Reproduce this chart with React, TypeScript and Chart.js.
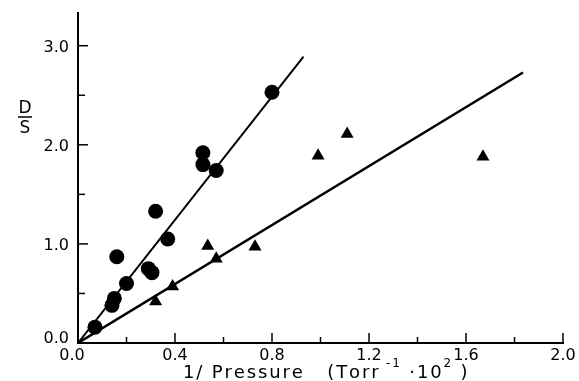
import React, { useEffect, useRef } from "react";
import { Chart, registerables } from "chart.js";

Chart.register(...registerables);

// Circles (first series) : [1/Pressure, D/S]
const circleX = [0.07, 0.14, 0.15, 0.16, 0.2, 0.29, 0.305, 0.32, 0.37, 0.515, 0.515, 0.57, 0.8];
const circleY = [0.16, 0.38, 0.45, 0.87, 0.6, 0.75, 0.71, 1.33, 1.05, 1.92, 1.8, 1.74, 2.53];
// Triangles (second series)
const triX = [0.32, 0.39, 0.535, 0.57, 0.73, 0.99, 1.11, 1.67];
const triY = [0.42, 0.57, 0.98, 0.85, 0.97, 1.89, 2.11, 1.88];
// Fitted lines (start and end points)
const lineAX = [0, 0.93];
const lineAY = [0, 2.89];
const lineBX = [0, 1.835];
const lineBY = [0, 2.73];

const xMajorTicks = [0, 0.4, 0.8, 1.2, 1.6, 2.0];
const xTickLabels = ["0.0", "0.4", "0.8", "1.2", "1.6", "2.0"];
const xMinorTicks = [0.2, 0.6, 1.0, 1.4, 1.8];
const yMajorTicks = [0, 1, 2, 3];
const yTickLabels = ["0.0", "1.0", "2.0", "3.0"];
const yMinorTicks = [0.5, 1.5, 2.5];

const X_MIN = 0;
const X_MAX = 2.0;
const Y_MIN = 0;
const Y_MAX = 3.33;

const FONT = "'DejaVu Sans', 'Liberation Sans', Arial, sans-serif";

const axesPlugin = {
  id: "paperAxes",
  afterDraw(chart: any) {
    const ctx = chart.ctx;
    const xs = chart.scales.x;
    const ys = chart.scales.y;
    const x0 = xs.getPixelForValue(X_MIN);
    const x1 = xs.getPixelForValue(X_MAX);
    const y0 = ys.getPixelForValue(Y_MIN);
    const y1 = ys.getPixelForValue(Y_MAX);
    ctx.save();
    ctx.strokeStyle = "#000";
    ctx.fillStyle = "#000";
    ctx.lineWidth = 2;
    ctx.lineCap = "square";
    ctx.beginPath();
    ctx.moveTo(x0, y1);
    ctx.lineTo(x0, y0);
    ctx.lineTo(x1, y0);
    ctx.stroke();

    ctx.lineWidth = 1.5;
    ctx.lineCap = "butt";
    xMajorTicks.forEach((v) => {
      const px = xs.getPixelForValue(v);
      ctx.beginPath();
      ctx.moveTo(px, y0);
      ctx.lineTo(px, y0 - 10);
      ctx.stroke();
    });
    xMinorTicks.forEach((v) => {
      const px = xs.getPixelForValue(v);
      ctx.beginPath();
      ctx.moveTo(px, y0);
      ctx.lineTo(px, y0 - 6);
      ctx.stroke();
    });
    yMajorTicks.forEach((v) => {
      const py = ys.getPixelForValue(v);
      ctx.beginPath();
      ctx.moveTo(x0, py);
      ctx.lineTo(x0 + 10, py);
      ctx.stroke();
    });
    yMinorTicks.forEach((v) => {
      const py = ys.getPixelForValue(v);
      ctx.beginPath();
      ctx.moveTo(x0, py);
      ctx.lineTo(x0 + 7, py);
      ctx.stroke();
    });

    // tick labels
    ctx.font = `16px ${FONT}`;
    ctx.textAlign = "center";
    ctx.textBaseline = "alphabetic";
    xMajorTicks.forEach((v, i) => {
      const px = xs.getPixelForValue(v);
      ctx.fillText(xTickLabels[i], v === 0 ? px - 6 : px, y0 + 17);
    });
    ctx.textAlign = "right";
    yMajorTicks.forEach((v, i) => {
      const py = ys.getPixelForValue(v);
      ctx.fillText(yTickLabels[i], x0 - 9, (v === 0 ? py - 6 : py) + 6);
    });

    // y-axis title: D over S
    ctx.font = `17px ${FONT}`;
    ctx.textAlign = "center";
    const cx = 25;
    ctx.fillText("D", cx, 113);
    ctx.fillText("S", cx, 133);
    ctx.lineWidth = 1.5;
    ctx.beginPath();
    ctx.moveTo(cx - 7, 117);
    ctx.lineTo(cx + 7, 117);
    ctx.stroke();

    // x-axis title with superscripts
    const parts: [string, boolean][] = [
      ["1/ Pressure   (Torr", false],
      [" -1", true],
      [" ·10", false],
      ["2", true],
      [" )", false],
    ];
    const big = `18px ${FONT}`;
    const small = `12px ${FONT}`;
    let total = 0;
    let nChars = 0;
    parts.forEach(([t, sup]) => {
      ctx.font = sup ? small : big;
      total += ctx.measureText(t).width;
      nChars += t.length;
    });
    const left = 183;
    const targetW = 282;
    const spacing = Math.max(-1, Math.min(3, (targetW - total) / nChars));
    let cursor = left;
    ctx.textAlign = "left";
    parts.forEach(([t, sup]) => {
      ctx.font = sup ? small : big;
      for (const ch of t) {
        ctx.fillText(ch, cursor, sup ? 367 : 378);
        cursor += ctx.measureText(ch).width + spacing;
      }
    });
    ctx.restore();
  },
};

export default function App() {
  const ref = useRef<HTMLCanvasElement | null>(null);
  useEffect(() => {
    if (!ref.current) return;
    const circles = circleX.map((x, i) => ({ x, y: circleY[i] }));
    const tris = triX.map((x, i) => ({ x, y: triY[i] }));
    const lineA = lineAX.map((x, i) => ({ x, y: lineAY[i] }));
    const lineB = lineBX.map((x, i) => ({ x, y: lineBY[i] }));
    const chart = new Chart(ref.current, {
      type: "scatter",
      data: {
        datasets: [
          { label: "line A", data: lineA, showLine: true, borderColor: "#000", borderWidth: 2, pointRadius: 0 },
          { label: "line B", data: lineB, showLine: true, borderColor: "#000", borderWidth: 2.5, pointRadius: 0 },
          {
            label: "circles",
            data: circles,
            pointStyle: "circle",
            pointRadius: 7.5,
            backgroundColor: "#000",
            borderColor: "#000",
            borderWidth: 0,
          },
          {
            label: "triangles",
            data: tris,
            pointStyle: "triangle",
            pointRadius: 7.5,
            backgroundColor: "#000",
            borderColor: "#000",
            borderWidth: 0,
          },
        ],
      },
      options: {
        animation: false,
        responsive: false,
        maintainAspectRatio: false,
        layout: { padding: { left: 78, right: 16, top: 13, bottom: 38 } },
        plugins: { legend: { display: false }, tooltip: { enabled: false } },
        scales: {
          x: { type: "linear", min: X_MIN, max: X_MAX, display: false },
          y: { type: "linear", min: Y_MIN, max: Y_MAX, display: false },
        },
      },
      plugins: [axesPlugin],
    });
    return () => chart.destroy();
  }, []);
  return (
    <div style={{ position: "fixed", left: 0, top: 0, width: 579, height: 381, background: "#fff" }}>
      <canvas ref={ref} width={579} height={381} style={{ display: "block" }} />
    </div>
  );
}
